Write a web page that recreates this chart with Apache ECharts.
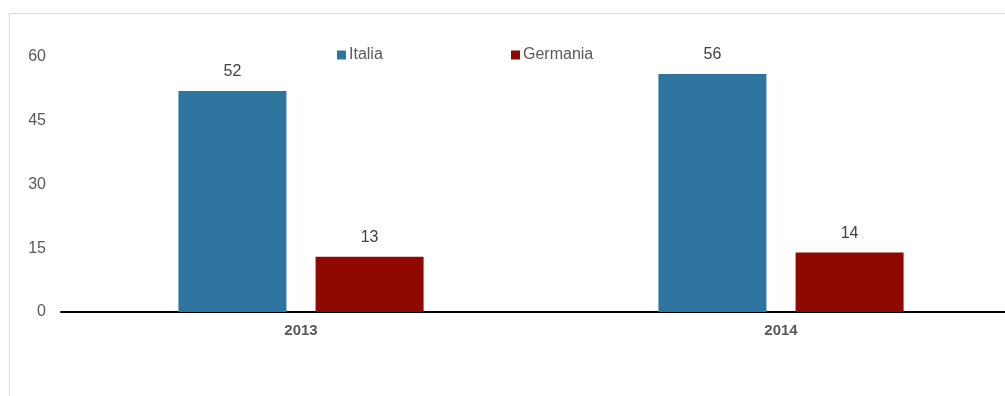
<!DOCTYPE html>
<html>
<head>
<meta charset="utf-8">
<script src="https://cdn.jsdelivr.net/npm/echarts@6/dist/echarts.min.js"></script>
<style>
  html, body { margin: 0; padding: 0; background: #fff; }
  #chart { width: 1005px; height: 396px; }
</style>
</head>
<body>
<div id="chart"></div>
<script>
// Categories and values
const years = ['2013', '2014'];
const italia = [52, 56];
const germania = [13, 14];
const yTicks = { min: 0, max: 60, interval: 15 };

const FONT = '"Liberation Sans", Arial, sans-serif';

const chart = echarts.init(document.getElementById('chart'), null, { renderer: 'canvas' });

const labelStyle = {
  show: true,
  position: 'top',
  distance: 11,
  color: '#404040',
  fontSize: 16,
  fontFamily: FONT
};

const legendText = { color: '#595959', fontSize: 16, fontFamily: FONT, padding: [0, 0, 0, -2] };

chart.setOption({
  animation: false,
  backgroundColor: '#ffffff',
  graphic: [{
    type: 'rect',
    shape: { x: 9.5, y: 13.5, width: 1100, height: 500 },
    style: { fill: 'none', stroke: '#d9d9d9', lineWidth: 1 },
    silent: true,
    z: -1
  }],
  legend: [
    {
      data: ['Italia'],
      left: 332,
      top: 42,
      itemWidth: 9,
      itemHeight: 9,
      icon: 'rect',
      textStyle: legendText
    },
    {
      data: ['Germania'],
      left: 506,
      top: 42,
      itemWidth: 9,
      itemHeight: 9,
      icon: 'rect',
      textStyle: legendText
    }
  ],
  // plot area runs slightly past the right edge of the canvas
  grid: { left: 61, width: 960, top: 57, bottom: 84, containLabel: false, outerBoundsMode: 'none' },
  xAxis: {
    type: 'category',
    data: years,
    axisLine: { lineStyle: { color: '#000000', width: 2 } },
    axisTick: { show: false },
    axisLabel: {
      color: '#595959',
      fontSize: 15,
      fontWeight: 'bold',
      fontFamily: FONT,
      margin: 11
    }
  },
  yAxis: {
    type: 'value',
    min: yTicks.min,
    max: yTicks.max,
    interval: yTicks.interval,
    axisLine: { show: false },
    axisTick: { show: false },
    splitLine: { show: false },
    axisLabel: {
      color: '#595959',
      fontSize: 16,
      fontFamily: FONT,
      margin: 15
    }
  },
  series: [
    {
      name: 'Italia',
      type: 'bar',
      data: italia,
      barWidth: 108,
      barGap: '27%',
      itemStyle: { color: '#2E76A0' },
      label: labelStyle
    },
    {
      name: 'Germania',
      type: 'bar',
      data: germania,
      barWidth: 108,
      itemStyle: { color: '#8F0900' },
      label: labelStyle
    }
  ]
});
</script>
</body>
</html>
